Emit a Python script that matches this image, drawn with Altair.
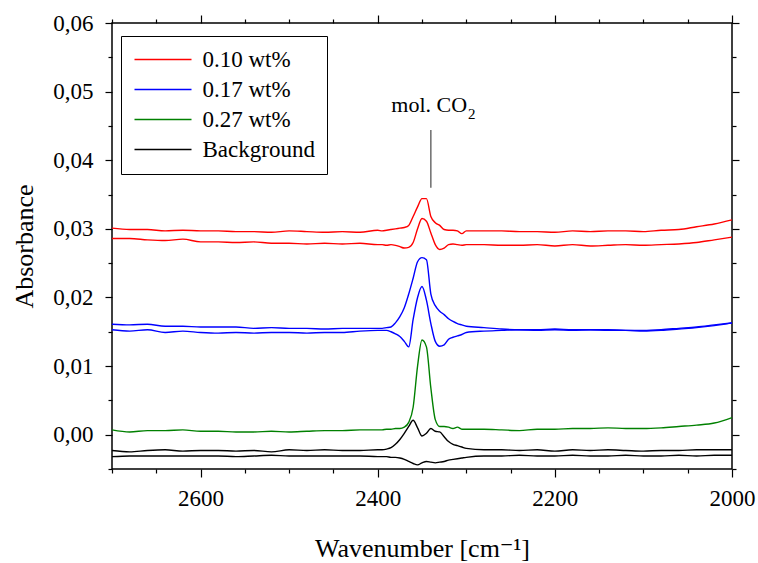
import altair as alt
import pandas as pd

# ---------------- data ----------------
wn_left = [2700, 2680, 2660, 2640, 2620, 2600, 2580, 2560, 2540, 2520, 2500, 2480, 2460, 2440, 2420, 2400]
wn_mid = [2395, 2390, 2385, 2380, 2375, 2370, 2365, 2360, 2355, 2350, 2345, 2340, 2335, 2330, 2325, 2320,
          2315, 2310, 2305, 2300]
wn_right = [2280, 2260, 2240, 2220, 2200, 2180, 2160, 2140, 2120, 2100, 2080, 2060, 2040, 2020, 2000]
wavenumber = wn_left + wn_mid + wn_right

red_upper = [
    0.0301, 0.0299, 0.0299, 0.0297, 0.0298, 0.0297, 0.0297, 0.0296, 0.0296, 0.0295, 0.0297, 0.0296, 0.0295, 0.0296, 0.0295, 0.0298,
    0.0297, 0.0298, 0.0299, 0.0300, 0.0301, 0.0302, 0.0305, 0.0318, 0.0332, 0.0344, 0.0344, 0.0318, 0.0309, 0.0305, 0.0299, 0.0298, 0.0298, 0.0297, 0.0293, 0.0297,
    0.0297, 0.0297, 0.0296, 0.0296, 0.0295, 0.0297, 0.0296, 0.0297, 0.0297, 0.0296, 0.0298, 0.0299, 0.0303, 0.0307, 0.0313]
red_lower = [
    0.0286, 0.0286, 0.0284, 0.0283, 0.0285, 0.0281, 0.0281, 0.0280, 0.0281, 0.0279, 0.0279, 0.0278, 0.0279, 0.0278, 0.0279, 0.0277,
    0.0277, 0.0276, 0.0277, 0.0276, 0.0274, 0.0272, 0.0273, 0.0280, 0.0300, 0.0315, 0.0311, 0.0294, 0.0277, 0.0270, 0.0272, 0.0277, 0.0278, 0.0277, 0.0276, 0.0277,
    0.0277, 0.0276, 0.0276, 0.0277, 0.0275, 0.0277, 0.0275, 0.0276, 0.0277, 0.0276, 0.0277, 0.0278, 0.0280, 0.0284, 0.0288]
blue_upper = [
    0.0161, 0.0160, 0.0161, 0.0158, 0.0158, 0.0157, 0.0157, 0.0157, 0.0155, 0.0156, 0.0155, 0.0155, 0.0154, 0.0155, 0.0155, 0.0155,
    0.0155, 0.0156, 0.0157, 0.0163, 0.0172, 0.0185, 0.0205, 0.0228, 0.0252, 0.0258, 0.0255, 0.0205, 0.0188, 0.0180, 0.0175, 0.0169, 0.0165, 0.0162, 0.0160, 0.0158,
    0.0156, 0.0154, 0.0153, 0.0153, 0.0154, 0.0153, 0.0153, 0.0153, 0.0152, 0.0152, 0.0153, 0.0155, 0.0157, 0.0160, 0.0163]
blue_lower = [
    0.0153, 0.0151, 0.0153, 0.0149, 0.0151, 0.0149, 0.0148, 0.0149, 0.0148, 0.0149, 0.0149, 0.0148, 0.0149, 0.0149, 0.0151, 0.0152,
    0.0152, 0.0152, 0.0150, 0.0147, 0.0143, 0.0136, 0.0128, 0.0168, 0.0200, 0.0216, 0.0196, 0.0162, 0.0136, 0.0129, 0.0131, 0.0139, 0.0142, 0.0144, 0.0146, 0.0149,
    0.0151, 0.0152, 0.0153, 0.0152, 0.0153, 0.0152, 0.0153, 0.0152, 0.0152, 0.0151, 0.0152, 0.0154, 0.0156, 0.0159, 0.0163]
green = [
    0.0007, 0.0004, 0.0006, 0.0006, 0.0007, 0.0005, 0.0005, 0.0004, 0.0004, 0.0005, 0.0004, 0.0005, 0.0006, 0.0006, 0.0007, 0.0007,
    0.0007, 0.0008, 0.0008, 0.0009, 0.0009, 0.0011, 0.0018, 0.0040, 0.0100, 0.0138, 0.0128, 0.0068, 0.0022, 0.0012, 0.0012, 0.0011, 0.0009, 0.0011, 0.0008, 0.0008,
    0.0008, 0.0007, 0.0006, 0.0008, 0.0008, 0.0009, 0.0009, 0.0010, 0.0009, 0.0009, 0.0010, 0.0012, 0.0014, 0.0017, 0.0025]
black_upper = [
    -0.0023, -0.0025, -0.0023, -0.0022, -0.0024, -0.0023, -0.0023, -0.0024, -0.0023, -0.0025, -0.0022, -0.0023, -0.0022, -0.0023, -0.0023, -0.0022,
    -0.0022, -0.0021, -0.0019, -0.0014, -0.0007, 0.0002, 0.0012, 0.0021, 0.0010, -0.0002, 0.0002, 0.0009, 0.0005, 0.0004, -0.0003, -0.0010, -0.0014, -0.0016, -0.0018, -0.0020,
    -0.0022, -0.0022, -0.0023, -0.0022, -0.0024, -0.0022, -0.0023, -0.0022, -0.0023, -0.0024, -0.0023, -0.0023, -0.0022, -0.0022, -0.0022]
black_lower = [
    -0.0032, -0.0031, -0.0031, -0.0031, -0.0031, -0.0031, -0.0031, -0.0032, -0.0031, -0.0030, -0.0031, -0.0031, -0.0031, -0.0031, -0.0031, -0.0032,
    -0.0032, -0.0032, -0.0033, -0.0033, -0.0034, -0.0036, -0.0039, -0.0042, -0.0044, -0.0041, -0.0039, -0.0040, -0.0041, -0.0040, -0.0039, -0.0037, -0.0036, -0.0035, -0.0034, -0.0033,
    -0.0031, -0.0031, -0.0030, -0.0031, -0.0031, -0.0030, -0.0031, -0.0031, -0.0030, -0.0031, -0.0031, -0.0030, -0.0031, -0.0030, -0.0030]

groups = ["0.10 wt%", "0.17 wt%", "0.27 wt%", "Background"]
colors = ["#ff0000", "#0000ff", "#008000", "#000000"]

traces = [
    ("0.10 wt%", "r1", red_upper),
    ("0.10 wt%", "r2", red_lower),
    ("0.17 wt%", "b1", blue_upper),
    ("0.17 wt%", "b2", blue_lower),
    ("0.27 wt%", "g1", green),
    ("Background", "k1", black_upper),
    ("Background", "k2", black_lower),
]

x_ticks = [2000, 2050, 2100, 2150, 2200, 2250, 2300, 2350, 2400, 2450, 2500, 2550, 2600, 2650, 2700]
y_ticks = [-0.005, 0.0, 0.005, 0.01, 0.015, 0.02, 0.025, 0.03, 0.035, 0.04, 0.045, 0.05, 0.055, 0.06]

# annotation "mol. CO2"
marker_wn = [2340]
marker_top = [0.0444]
marker_bottom = [0.0360]
label_wn = [2299]
label_y = [0.0470]
label_text = ["mol. CO"]
sub_wn = [2298]
sub_y = [0.0460]
sub_text = ["2"]

# ---------------- build tables ----------------
rows = []
for grp, tr, vals in traces:
    for w, v in zip(wavenumber, vals, strict=True):
        rows.append({"wn": w, "A": v, "group": grp, "trace": tr})
df = pd.DataFrame(rows)

marker_df = pd.DataFrame({"wn": marker_wn, "y1": marker_bottom, "y2": marker_top})
label_df = pd.DataFrame({"wn": label_wn, "A": label_y, "t": label_text})
sub_df = pd.DataFrame({"wn": sub_wn, "A": sub_y, "t": sub_text})

FONT = "Liberation Serif, Times New Roman, DejaVu Serif, serif"
x_scale = alt.Scale(domain=[2000, 2700], reverse=True, nice=False, zero=False)
y_scale = alt.Scale(domain=[-0.005, 0.06], nice=False, zero=False)

x_major = "datum.value % 200 === 0"
y_major = "abs(datum.value*100 - round(datum.value*100)) < 1e-6"

common_axis = dict(
    domain=False, grid=False, tickColor="black", tickWidth=1.2,
    labelFont=FONT, labelColor="black", labelOverlap=False, labelFlush=False,
)

bottom_axis = alt.Axis(
    orient="bottom", values=x_ticks,
    labelExpr=f"{x_major} ? format(datum.value, 'd') : ''",
    tickSize={"condition": {"test": x_major, "value": 8}, "value": 4},
    labelFontSize=23, labelPadding=10,
    title="Wavenumber [cm⁻¹]", titleFont=FONT, titleFontSize=26, titleFontWeight="normal",
    titleColor="black", titleY=87, titleBaseline="alphabetic",
    **common_axis,
)
left_axis = alt.Axis(
    orient="left", values=y_ticks,
    labelExpr=f"{y_major} ? replace(format(datum.value, '.2f'), '.', ',') : ''",
    tickSize={"condition": {"test": y_major, "value": 7}, "value": 4},
    labelFontSize=23, labelPadding=12,
    title="Absorbance", titleFont=FONT, titleFontSize=26, titleFontWeight="normal",
    titleColor="black", titleX=-80, titleY=223, titleAngle=270, titleBaseline="alphabetic",
    **common_axis,
)
top_axis = alt.Axis(
    orient="top", values=x_ticks, labels=False,
    tickSize={"condition": {"test": x_major, "value": 8}, "value": 4},
    **common_axis,
)
right_axis = alt.Axis(
    orient="right", values=y_ticks, labels=False,
    tickSize={"condition": {"test": y_major, "value": 7}, "value": 4},
    **common_axis,
)

lines = alt.Chart(df).mark_line(strokeWidth=1.4, interpolate="monotone").encode(
    x=alt.X("wn:Q", scale=x_scale, axis=bottom_axis),
    y=alt.Y("A:Q", scale=y_scale, axis=left_axis),
    color=alt.Color(
        "group:N",
        scale=alt.Scale(domain=groups, range=colors),
        title=None,
        legend=alt.Legend(
            orient="none", legendX=9, legendY=13, direction="vertical",
            fillColor="white", strokeColor="black", padding=12, cornerRadius=0,
            symbolType="M-2.85,0H2.85", symbolSize=400, symbolStrokeWidth=1.4,
            symbolOffset=18.5, labelOffset=28,
            labelFont=FONT, labelFontSize=23, labelColor="black", rowPadding=6,
            labelLimit=300,
        ),
    ),
    detail="trace:N",
)

marker = alt.Chart(marker_df).mark_rule(color="#555555", strokeWidth=1.3).encode(
    x=alt.X("wn:Q", scale=x_scale, axis=top_axis, title=None),
    y=alt.Y("y1:Q", scale=y_scale, axis=right_axis, title=None),
    y2="y2:Q",
)

label = alt.Chart(label_df).mark_text(
    font=FONT, fontSize=22, color="black", align="right", baseline="alphabetic"
).encode(
    x=alt.X("wn:Q", scale=x_scale, axis=None),
    y=alt.Y("A:Q", scale=y_scale, axis=None),
    text="t:N",
)

sub = alt.Chart(sub_df).mark_text(
    font=FONT, fontSize=15, color="black", align="left", baseline="alphabetic"
).encode(
    x=alt.X("wn:Q", scale=x_scale, axis=None),
    y=alt.Y("A:Q", scale=y_scale, axis=None),
    text="t:N",
)

chart = (
    alt.layer(lines, marker, label, sub)
    .resolve_axis(x="independent", y="independent")
    .properties(
        width=620, height=446,
        padding={"left": 112, "top": 23, "right": 26, "bottom": 94},
        autosize=alt.AutoSizeParams(type="none"),
        background="white",
    )
    .configure_view(stroke="black", strokeWidth=1.5)
)

chart.save("out.html", embed_options={"renderer": "svg", "actions": False})
